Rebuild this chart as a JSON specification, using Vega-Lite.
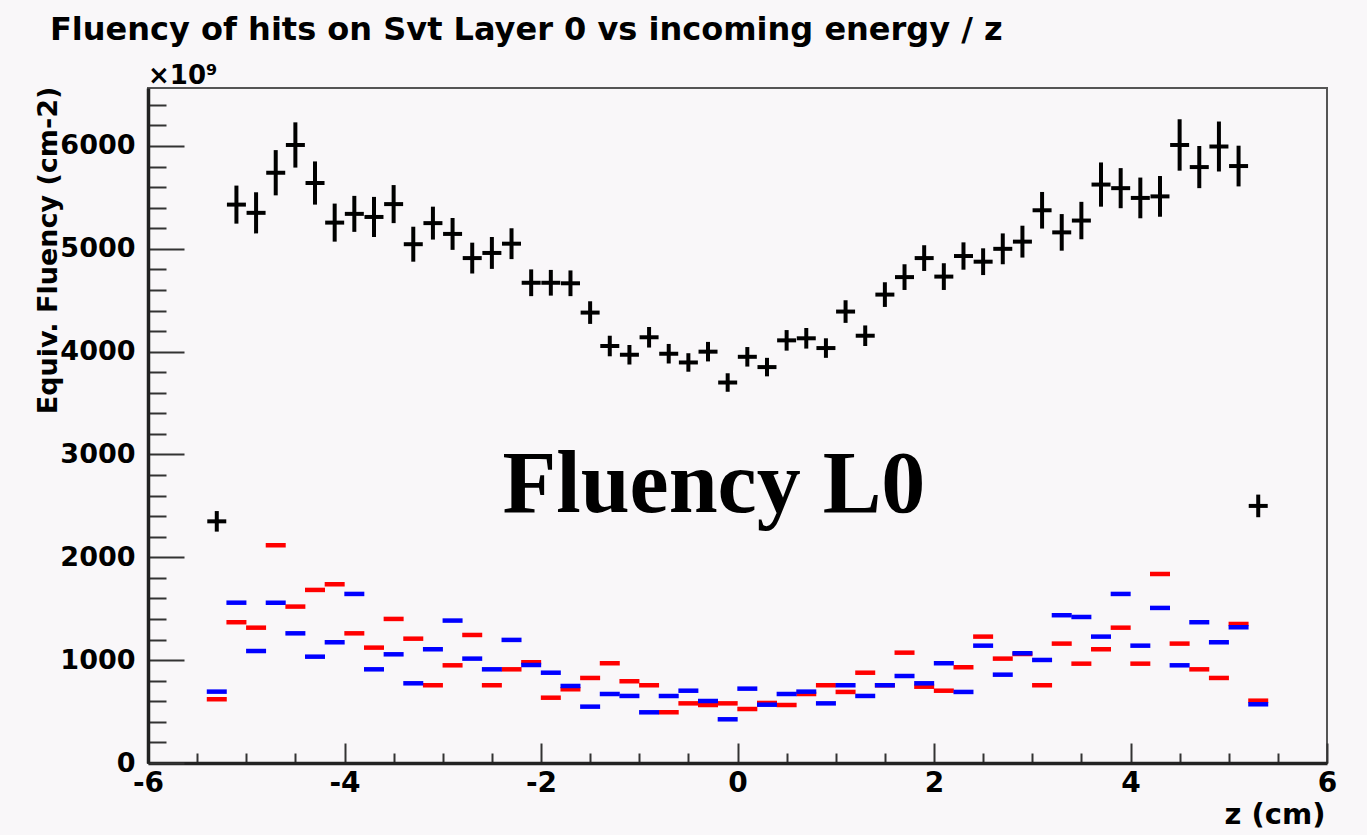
{
  "$schema": "https://vega.github.io/schema/vega-lite/v6.json",
  "width": 1179,
  "height": 675,
  "autosize": {"type": "none"},
  "padding": {"left": 148, "top": 88, "right": 40, "bottom": 72},
  "background": "#f9f7f9",
  "title": {
    "text": "Fluency of hits on Svt Layer 0 vs incoming energy / z",
    "anchor": "start",
    "frame": "group",
    "offset": 0,
    "dx": -98,
    "dy": 9,
    "baseline": "alphabetic",
    "font": "DejaVu Sans",
    "fontSize": 32,
    "fontWeight": "bold",
    "color": "#000000"
  },
  "datasets": {
    "black": [
      {"z": -5.3, "v": 2350, "err": 100},
      {"z": -5.1, "v": 5430, "err": 185},
      {"z": -4.9, "v": 5350, "err": 200},
      {"z": -4.7, "v": 5740, "err": 220},
      {"z": -4.5, "v": 6010, "err": 220},
      {"z": -4.3, "v": 5640, "err": 210},
      {"z": -4.1, "v": 5255, "err": 185},
      {"z": -3.9, "v": 5340, "err": 175},
      {"z": -3.7, "v": 5310, "err": 195},
      {"z": -3.5, "v": 5435, "err": 185},
      {"z": -3.3, "v": 5045, "err": 170},
      {"z": -3.1, "v": 5250, "err": 160},
      {"z": -2.9, "v": 5145, "err": 155},
      {"z": -2.7, "v": 4910, "err": 150},
      {"z": -2.5, "v": 4960, "err": 155},
      {"z": -2.3, "v": 5050, "err": 150},
      {"z": -2.1, "v": 4670, "err": 130},
      {"z": -1.9, "v": 4670, "err": 125},
      {"z": -1.7, "v": 4665, "err": 125},
      {"z": -1.5, "v": 4380, "err": 110},
      {"z": -1.3, "v": 4055, "err": 100},
      {"z": -1.1, "v": 3970, "err": 95},
      {"z": -0.9, "v": 4140, "err": 100},
      {"z": -0.7, "v": 3980, "err": 95},
      {"z": -0.5, "v": 3895, "err": 90},
      {"z": -0.3, "v": 4000, "err": 95},
      {"z": -0.1, "v": 3700, "err": 90},
      {"z": 0.1, "v": 3950, "err": 95},
      {"z": 0.3, "v": 3850, "err": 90},
      {"z": 0.5, "v": 4110, "err": 100},
      {"z": 0.7, "v": 4130, "err": 100},
      {"z": 0.9, "v": 4035, "err": 95},
      {"z": 1.1, "v": 4390, "err": 110},
      {"z": 1.3, "v": 4155, "err": 100},
      {"z": 1.5, "v": 4555, "err": 120},
      {"z": 1.7, "v": 4725, "err": 125},
      {"z": 1.9, "v": 4910, "err": 125},
      {"z": 2.1, "v": 4730, "err": 130},
      {"z": 2.3, "v": 4930, "err": 133},
      {"z": 2.5, "v": 4875, "err": 130},
      {"z": 2.7, "v": 5000, "err": 150},
      {"z": 2.9, "v": 5070, "err": 155},
      {"z": 3.1, "v": 5375, "err": 178},
      {"z": 3.3, "v": 5160, "err": 178},
      {"z": 3.5, "v": 5275, "err": 182},
      {"z": 3.7, "v": 5625, "err": 215},
      {"z": 3.9, "v": 5590, "err": 195},
      {"z": 4.1, "v": 5495, "err": 198},
      {"z": 4.3, "v": 5510, "err": 198},
      {"z": 4.5, "v": 6010, "err": 250},
      {"z": 4.7, "v": 5795, "err": 205},
      {"z": 4.9, "v": 5995, "err": 243},
      {"z": 5.1, "v": 5805, "err": 198},
      {"z": 5.3, "v": 2500, "err": 110}
    ],
    "red": [
      {"z": -5.3, "v": 620}, {"z": -5.1, "v": 1369}, {"z": -4.9, "v": 1316}, {"z": -4.7, "v": 2117},
      {"z": -4.5, "v": 1521}, {"z": -4.3, "v": 1683}, {"z": -4.1, "v": 1738}, {"z": -3.9, "v": 1261},
      {"z": -3.7, "v": 1122}, {"z": -3.5, "v": 1401}, {"z": -3.3, "v": 1209}, {"z": -3.1, "v": 756},
      {"z": -2.9, "v": 950}, {"z": -2.7, "v": 1245}, {"z": -2.5, "v": 756}, {"z": -2.3, "v": 911},
      {"z": -2.1, "v": 980}, {"z": -1.9, "v": 635}, {"z": -1.7, "v": 717}, {"z": -1.5, "v": 827},
      {"z": -1.3, "v": 970}, {"z": -1.1, "v": 795}, {"z": -0.9, "v": 756}, {"z": -0.7, "v": 493},
      {"z": -0.5, "v": 580}, {"z": -0.3, "v": 564}, {"z": -0.1, "v": 580}, {"z": 0.1, "v": 525},
      {"z": 0.3, "v": 584}, {"z": 0.5, "v": 564}, {"z": 0.7, "v": 671}, {"z": 0.9, "v": 756},
      {"z": 1.1, "v": 691}, {"z": 1.3, "v": 878}, {"z": 1.5, "v": 756}, {"z": 1.7, "v": 1073},
      {"z": 1.9, "v": 742}, {"z": 2.1, "v": 703}, {"z": 2.3, "v": 931}, {"z": 2.5, "v": 1229},
      {"z": 2.7, "v": 1015}, {"z": 2.9, "v": 1060}, {"z": 3.1, "v": 756}, {"z": 3.3, "v": 1161},
      {"z": 3.5, "v": 966}, {"z": 3.7, "v": 1106}, {"z": 3.9, "v": 1316}, {"z": 4.1, "v": 966},
      {"z": 4.3, "v": 1838}, {"z": 4.5, "v": 1161}, {"z": 4.7, "v": 911}, {"z": 4.9, "v": 827},
      {"z": 5.1, "v": 1352}, {"z": 5.3, "v": 606}
    ],
    "blue": [
      {"z": -5.3, "v": 694}, {"z": -5.1, "v": 1559}, {"z": -4.9, "v": 1089}, {"z": -4.7, "v": 1559},
      {"z": -4.5, "v": 1261}, {"z": -4.3, "v": 1034}, {"z": -4.1, "v": 1174}, {"z": -3.9, "v": 1644},
      {"z": -3.7, "v": 911}, {"z": -3.5, "v": 1057}, {"z": -3.3, "v": 775}, {"z": -3.1, "v": 1106},
      {"z": -2.9, "v": 1385}, {"z": -2.7, "v": 1015}, {"z": -2.5, "v": 911}, {"z": -2.3, "v": 1197},
      {"z": -2.1, "v": 953}, {"z": -1.9, "v": 878}, {"z": -1.7, "v": 749}, {"z": -1.5, "v": 548},
      {"z": -1.3, "v": 671}, {"z": -1.1, "v": 652}, {"z": -0.9, "v": 493}, {"z": -0.7, "v": 652},
      {"z": -0.5, "v": 703}, {"z": -0.3, "v": 603}, {"z": -0.1, "v": 425}, {"z": 0.1, "v": 723},
      {"z": 0.3, "v": 567}, {"z": 0.5, "v": 671}, {"z": 0.7, "v": 694}, {"z": 0.9, "v": 580},
      {"z": 1.1, "v": 756}, {"z": 1.3, "v": 652}, {"z": 1.5, "v": 756}, {"z": 1.7, "v": 846},
      {"z": 1.9, "v": 775}, {"z": 2.1, "v": 970}, {"z": 2.3, "v": 691}, {"z": 2.5, "v": 1141},
      {"z": 2.7, "v": 859}, {"z": 2.9, "v": 1067}, {"z": 3.1, "v": 1002}, {"z": 3.3, "v": 1437},
      {"z": 3.5, "v": 1420}, {"z": 3.7, "v": 1229}, {"z": 3.9, "v": 1644}, {"z": 4.1, "v": 1141},
      {"z": 4.3, "v": 1508}, {"z": 4.5, "v": 950}, {"z": 4.7, "v": 1369}, {"z": 4.9, "v": 1174},
      {"z": 5.1, "v": 1320}, {"z": 5.3, "v": 571}
    ]
  },
  "layer": [
    {
      "data": {"name": "red"},
      "mark": {"type": "tick", "orient": "horizontal", "size": 20, "thickness": 4.5, "color": "#ff0000", "opacity": 1},
      "encoding": {
        "x": {"field": "z", "type": "quantitative", "scale": {"domain": [-6, 6], "nice": false, "zero": false},
          "axis": {"orient": "bottom", "values": [-6, -4, -2, 0, 2, 4, 6], "labels": false, "domain": false, "title": null, "grid": false, "tickSize": -20, "tickWidth": 2, "tickColor": "#333333"}},
        "y": {"field": "v", "type": "quantitative", "scale": {"domain": [0, 6564], "nice": false, "zero": true},
          "axis": {"orient": "left", "values": [0, 1000, 2000, 3000, 4000, 5000, 6000], "labels": false, "domain": false, "title": null, "grid": false, "tickSize": -36, "tickWidth": 2, "tickColor": "#333333"}}
      }
    },
    {
      "data": {"name": "blue"},
      "mark": {"type": "tick", "orient": "horizontal", "size": 20, "thickness": 4.5, "color": "#0000ff", "opacity": 1},
      "encoding": {
        "x": {"field": "z", "type": "quantitative", "scale": {"domain": [-6, 6], "nice": false, "zero": false},
          "axis": {"orient": "bottom", "values": [-5.5, -5, -4.5, -3.5, -3, -2.5, -1.5, -1, -0.5, 0.5, 1, 1.5, 2.5, 3, 3.5, 4.5, 5, 5.5], "labels": false, "domain": false, "title": null, "grid": false, "tickSize": -10, "tickWidth": 2, "tickColor": "#333333"}},
        "y": {"field": "v", "type": "quantitative", "scale": {"domain": [0, 6564], "nice": false, "zero": true},
          "axis": {"orient": "left", "values": [200, 400, 600, 800, 1200, 1400, 1600, 1800, 2200, 2400, 2600, 2800, 3200, 3400, 3600, 3800, 4200, 4400, 4600, 4800, 5200, 5400, 5600, 5800, 6200, 6400], "labels": false, "domain": false, "title": null, "grid": false, "tickSize": -18, "tickWidth": 2, "tickColor": "#333333"}}
      }
    },
    {
      "data": {"name": "black"},
      "mark": {"type": "errorbar", "thickness": 4, "color": "#000000"},
      "encoding": {
        "x": {"field": "z", "type": "quantitative", "scale": {"domain": [-6, 6], "nice": false, "zero": false}, "axis": null},
        "y": {"field": "v", "type": "quantitative", "scale": {"domain": [0, 6564], "nice": false, "zero": true}, "axis": null},
        "yError": {"field": "err"}
      }
    },
    {
      "data": {"name": "black"},
      "mark": {"type": "tick", "orient": "horizontal", "size": 19, "thickness": 4, "color": "#000000", "opacity": 1},
      "encoding": {
        "x": {"field": "z", "type": "quantitative", "scale": {"domain": [-6, 6], "nice": false, "zero": false},
          "axis": {"orient": "bottom", "values": [-6, -4, -2, 0, 2, 4, 6], "ticks": false, "tickSize": 0, "grid": false,
            "domain": true, "domainColor": "#222222", "domainWidth": 3.5, "format": "d",
            "labelFont": "DejaVu Sans", "labelFontSize": 28, "labelFontWeight": "bold", "labelColor": "#000000", "labelPadding": 6, "labelFlush": false,
            "labelExpr": "replace(datum.label, '−', '-')",
            "title": "z (cm)", "titleFont": "DejaVu Sans", "titleFontSize": 29, "titleFontWeight": "bold", "titleColor": "#000000",
            "titleX": 1177, "titleY": 60, "titleAlign": "right", "titleBaseline": "alphabetic"}},
        "y": {"field": "v", "type": "quantitative", "scale": {"domain": [0, 6564], "nice": false, "zero": true},
          "axis": {"orient": "left", "values": [0, 1000, 2000, 3000, 4000, 5000, 6000], "ticks": false, "tickSize": 0, "grid": false,
            "domain": true, "domainColor": "#222222", "domainWidth": 3.5, "format": "d",
            "labelFont": "DejaVu Sans", "labelFontSize": 27, "labelFontWeight": "bold", "labelColor": "#000000", "labelPadding": 13, "labelFlush": false,
            "title": "Equiv. Fluency (cm-2)", "titleFont": "DejaVu Sans", "titleFontSize": 27, "titleFontWeight": "bold", "titleColor": "#000000",
            "titleAngle": 270, "titleX": -92, "titleY": 162, "titleAlign": "center", "titleBaseline": "alphabetic"}}
      }
    },
    {
      "data": {"values": [{"label": "×10⁹"}]},
      "mark": {"type": "text", "align": "left", "baseline": "alphabetic", "dy": -4, "font": "DejaVu Sans", "fontSize": 26, "fontWeight": "bold", "color": "#000000", "clip": false},
      "encoding": {
        "x": {"datum": -6, "type": "quantitative", "scale": {"domain": [-6, 6], "nice": false, "zero": false}, "axis": null},
        "y": {"datum": 6564, "type": "quantitative", "scale": {"domain": [0, 6564], "nice": false, "zero": true}, "axis": null},
        "text": {"field": "label"}
      }
    },
    {
      "data": {"values": [{"label": "Fluency L0"}]},
      "mark": {"type": "text", "align": "center", "baseline": "alphabetic", "font": "Liberation Serif", "fontSize": 88, "fontWeight": "bold", "color": "#000000"},
      "encoding": {
        "x": {"datum": -0.24, "type": "quantitative", "scale": {"domain": [-6, 6], "nice": false, "zero": false}, "axis": null},
        "y": {"datum": 2441, "type": "quantitative", "scale": {"domain": [0, 6564], "nice": false, "zero": true}, "axis": null},
        "text": {"field": "label"}
      }
    }
  ],
  "resolve": {"axis": {"x": "independent", "y": "independent"}},
  "config": {
    "view": {"stroke": "#555555", "strokeWidth": 2},
    "axis": {"grid": false}
  }
}
